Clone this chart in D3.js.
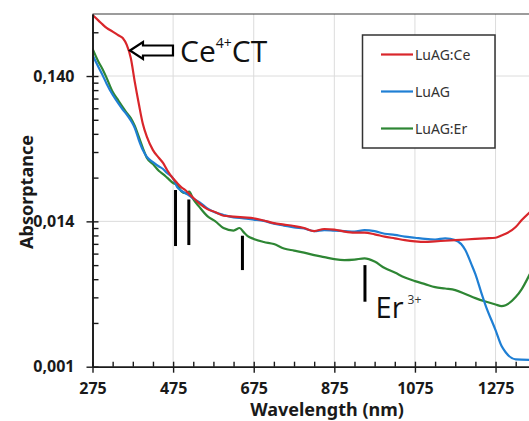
<!DOCTYPE html>
<html>
<head>
<meta charset="utf-8">
<script src="https://cdn.jsdelivr.net/npm/d3@7"></script>
<style>
  body { margin: 0; background: #fff; }
  svg { display: block; }
</style>
</head>
<body>
<div id="chart"></div>
<script>
// wavelength grid (nm) and absorptance
var wlRed = [275,290,300,310,325,340,350,360,370,380,390,400,410,425,440,450,460,475,485,495,505,515,525,540,560,580,600,625,650,675,700,725,750,775,800,825,850,875,900,925,950,975,1000,1025,1050,1075,1100,1125,1150,1175,1200,1225,1250,1275,1290,1300,1325,1340,1360];
var luagCe = [0.368,0.337,0.317,0.300,0.283,0.266,0.256,0.229,0.186,0.127,0.0899,0.0654,0.0533,0.0433,0.0382,0.0353,0.0316,0.0276,0.0257,0.0241,0.0230,0.0216,0.0203,0.0186,0.0170,0.0162,0.0153,0.0151,0.0149,0.0147,0.0142,0.0136,0.0133,0.0130,0.0126,0.0120,0.0124,0.0123,0.0119,0.0117,0.0117,0.0114,0.0110,0.0107,0.0104,0.0102,0.0101,0.0102,0.0103,0.0104,0.0105,0.0106,0.0107,0.0108,0.0112,0.0115,0.0128,0.0143,0.0162];

var wlBlue = [275,290,300,310,325,340,350,360,370,380,390,400,410,425,440,450,460,475,485,495,505,515,525,540,560,580,600,625,650,675,700,725,750,775,800,825,850,875,900,925,950,975,1000,1025,1050,1075,1100,1125,1150,1175,1200,1215,1225,1240,1250,1275,1290,1300,1325,1360];
var luag = [0.195,0.161,0.142,0.124,0.104,0.0899,0.0823,0.0761,0.0692,0.0614,0.0508,0.0433,0.0388,0.0358,0.0334,0.0321,0.0301,0.0276,0.0241,0.0228,0.0219,0.0211,0.0201,0.0190,0.0172,0.0161,0.0155,0.0149,0.0147,0.0144,0.0141,0.0135,0.0131,0.0127,0.0125,0.0120,0.0122,0.0121,0.0120,0.0119,0.0122,0.0120,0.0115,0.0113,0.0110,0.0108,0.0106,0.0105,0.0107,0.0104,0.00889,0.00711,0.00607,0.00449,0.00372,0.00250,0.00194,0.00176,0.00157,0.00156];

var wlGreen = [275,290,300,310,325,340,350,360,370,380,390,400,410,425,440,450,460,475,485,495,505,515,525,540,560,580,600,625,640,650,660,675,700,725,750,775,800,825,850,875,900,925,950,975,1000,1025,1050,1075,1100,1125,1150,1175,1200,1225,1250,1275,1290,1300,1325,1340,1360];
var luagEr = [0.216,0.175,0.156,0.136,0.109,0.0942,0.0856,0.0779,0.0720,0.0634,0.0533,0.0447,0.0382,0.0347,0.0311,0.0296,0.0280,0.0257,0.0249,0.0226,0.0219,0.0224,0.0199,0.0176,0.0152,0.0140,0.0126,0.0121,0.0126,0.0118,0.0111,0.0106,0.0101,0.00977,0.00910,0.00881,0.00854,0.00820,0.00795,0.00770,0.00758,0.00764,0.00779,0.00740,0.00668,0.00622,0.00575,0.00543,0.00518,0.00494,0.00483,0.00471,0.00443,0.00415,0.00393,0.00375,0.00366,0.00371,0.00422,0.00479,0.00607];

var seriesNames = ["LuAG:Ce", "LuAG", "LuAG:Er"];
var seriesColors = ["#d9262b", "#1f7fd4", "#2e8634"];

var xTicks = [275, 475, 675, 875, 1075, 1275];
var yTicks = [0.0014, 0.014, 0.14];

// Er3+ absorption markers: wavelength, top and bottom value
var erBars = [
  {wl: 481, top: 0.0230, bottom: 0.00947},
  {wl: 514, top: 0.0198, bottom: 0.00962},
  {wl: 647, top: 0.01115, bottom: 0.00647},
  {wl: 951, top: 0.00700, bottom: 0.00392}
];

var W = 529, H = 421;
var mLeft = 92.5, mRight = 529, mTop = 14, mBottom = 366.7;

var svg = d3.select("#chart").append("svg")
    .attr("width", W)
    .attr("height", H)
    .style("font-family", "'Noto Sans', sans-serif");

// the picture is cut at the right edge, around 1358 nm
var x = d3.scaleLinear().domain([275, 1358]).range([mLeft, mRight]);
var y = d3.scaleLog().domain([0.0014, 0.374]).range([mBottom, mTop]);

svg.append("defs").append("clipPath").attr("id", "plotclip")
  .append("rect").attr("x", mLeft).attr("y", mTop).attr("width", mRight - mLeft).attr("height", mBottom - mTop);

// gridlines
svg.append("g").selectAll("line").data(xTicks.slice(1)).enter().append("line")
    .attr("x1", function(d){ return x(d); }).attr("x2", function(d){ return x(d); })
    .attr("y1", mTop).attr("y2", mBottom)
    .attr("stroke", "#dcdcdc").attr("stroke-width", 1);
svg.append("g").selectAll("line").data(yTicks.slice(1)).enter().append("line")
    .attr("x1", mLeft).attr("x2", mRight)
    .attr("y1", function(d){ return y(d); }).attr("y2", function(d){ return y(d); })
    .attr("stroke", "#dcdcdc").attr("stroke-width", 1);

// top frame line
svg.append("line").attr("x1", mLeft).attr("x2", mRight).attr("y1", mTop).attr("y2", mTop)
    .attr("stroke", "#3a3a3a").attr("stroke-width", 1.2);

// curves
var plot = svg.append("g").attr("clip-path", "url(#plotclip)");
var allSeries = [
  {wl: wlRed, v: luagCe},
  {wl: wlBlue, v: luag},
  {wl: wlGreen, v: luagEr}
];
var line = d3.line()
    .x(function(d){ return x(d[0]); })
    .y(function(d){ return y(d[1]); })
    .curve(d3.curveMonotoneX);

// green first, red on top
[2, 1, 0].forEach(function(i){
  var pts = allSeries[i].wl.map(function(w, k){ return [w, allSeries[i].v[k]]; });
  plot.append("path").datum(pts)
      .attr("d", line)
      .attr("fill", "none")
      .attr("stroke", seriesColors[i])
      .attr("stroke-width", 2.2)
      .attr("stroke-linejoin", "round");
});

// axes
var xMinor = d3.range(275, 1358, 50);
svg.append("g").attr("transform", "translate(0," + mBottom + ")")
    .call(d3.axisBottom(x).tickValues(xTicks).tickSize(6).tickSizeOuter(0).tickPadding(10).tickFormat(d3.format("d")));
svg.append("g").attr("transform", "translate(0," + mBottom + ")")
    .call(d3.axisBottom(x).tickValues(xMinor).tickSize(-5).tickSizeOuter(0).tickFormat(""));

var yMinor = [];
yTicks.forEach(function(b){
  for (var k = 2; k <= 9; k++) yMinor.push(b * k);
});
yMinor = yMinor.filter(function(v){ return v <= 0.374; });

var fmt = d3.format(".3f");
svg.append("g").attr("transform", "translate(" + mLeft + ",0)")
    .call(d3.axisLeft(y).tickValues(yTicks).tickSize(6).tickSizeOuter(0).tickPadding(12)
      .tickFormat(function(d){ return fmt(d).replace(".", ","); }));
svg.append("g").attr("transform", "translate(" + mLeft + ",0)")
    .call(d3.axisLeft(y).tickValues(yTicks.concat(yMinor)).tickSize(-6).tickSizeOuter(0).tickFormat(""));

svg.selectAll(".domain").attr("stroke", "#1a1a1a").attr("stroke-width", 1.6);
svg.selectAll(".tick line").attr("stroke", "#1a1a1a").attr("stroke-width", 1.4);
svg.selectAll(".tick text")
    .attr("font-family", "'Noto Sans', sans-serif")
    .attr("font-size", 16).attr("font-weight", "bold").attr("fill", "#1a1a1a");

// axis titles
svg.append("text")
    .attr("x", 327).attr("y", 416)
    .attr("text-anchor", "middle")
    .attr("font-size", 18).attr("font-weight", "bold").attr("fill", "#1a1a1a")
    .text("Wavelength (nm)");
svg.append("text")
    .attr("transform", "translate(33,192) rotate(-90)")
    .attr("text-anchor", "middle")
    .attr("font-size", 18).attr("font-weight", "bold").attr("fill", "#1a1a1a")
    .text("Absorptance");

// Er3+ markers
svg.append("g").selectAll("line").data(erBars).enter().append("line")
    .attr("x1", function(d){ return x(d.wl); }).attr("x2", function(d){ return x(d.wl); })
    .attr("y1", function(d){ return y(d.top); }).attr("y2", function(d){ return y(d.bottom); })
    .attr("stroke", "#000").attr("stroke-width", 3);

var erLabel = svg.append("text").attr("x", x(955) + 9).attr("y", 318)
    .attr("font-family", "'Open Sans', sans-serif")
    .attr("font-size", 29).attr("fill", "#111");
erLabel.append("tspan").text("Er");
erLabel.append("tspan").attr("dx", 4).attr("dy", -14).attr("font-size", 12).attr("fill", "#333").text("3+");

// Ce4+ CT arrow
var tipX = x(368), tipY = 50.5;
var arrow = [[0, 0], [13, -8.5], [13, -5], [43, -5], [43, 5], [13, 5], [13, 8.5]];
svg.append("path")
    .attr("d", "M" + arrow.map(function(p){ return (tipX + p[0]) + "," + (tipY + p[1]); }).join("L") + "Z")
    .attr("fill", "#fff").attr("stroke", "#000").attr("stroke-width", 2.2)
    .attr("stroke-linejoin", "miter");

var ceLabel = svg.append("text").attr("x", 180).attr("y", 62)
    .attr("font-family", "'Open Sans', sans-serif")
    .attr("font-size", 30).attr("fill", "#111");
ceLabel.append("tspan").text("Ce");
ceLabel.append("tspan").attr("dy", -14).attr("font-size", 14).text("4+");
ceLabel.append("tspan").attr("dy", 14).text("CT");

// legend
var lg = svg.append("g");
lg.append("rect").attr("x", 362.5).attr("y", 35).attr("width", 132.5).attr("height", 113)
    .attr("fill", "#fff").attr("stroke", "#333").attr("stroke-width", 1.5);
var legendY = [54.5, 91.5, 128.5];
seriesNames.forEach(function(name, i){
  lg.append("line").attr("x1", 381).attr("x2", 413)
      .attr("y1", legendY[i]).attr("y2", legendY[i])
      .attr("stroke", seriesColors[i]).attr("stroke-width", 2.2);
  lg.append("text").attr("x", 415).attr("y", legendY[i] + 5)
      .attr("font-size", 14).attr("fill", "#333").text(name);
});
</script>
</body>
</html>
